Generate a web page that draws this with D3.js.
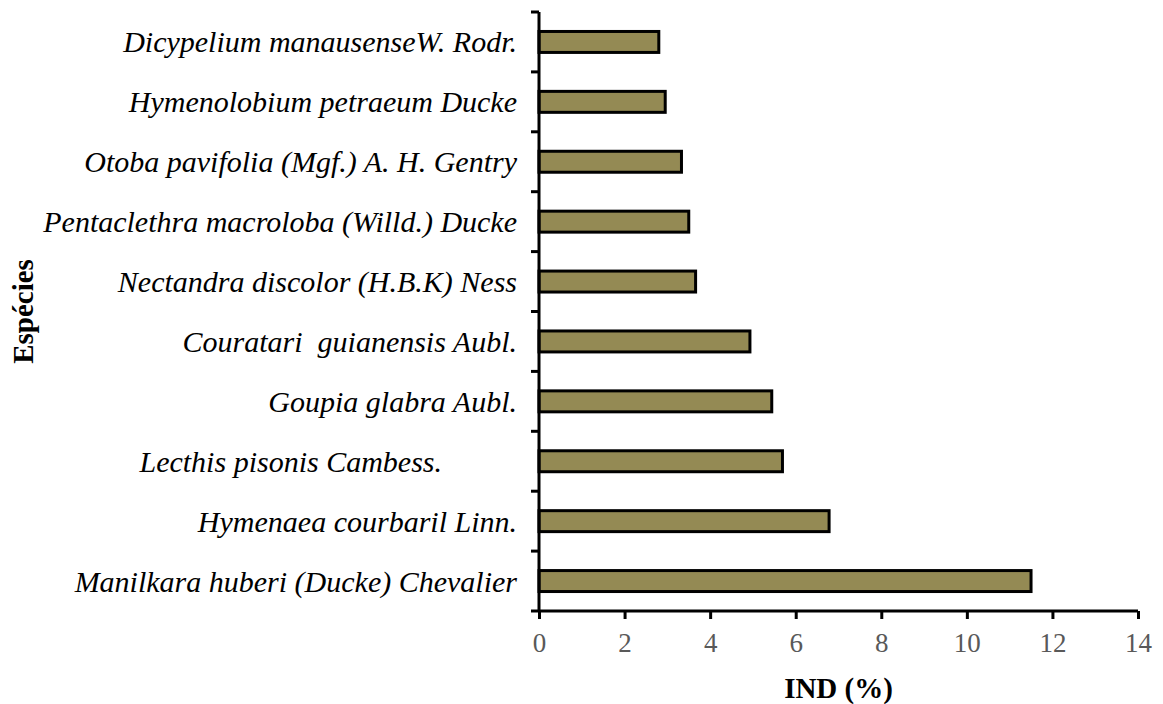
<!DOCTYPE html>
<html>
<head>
<meta charset="utf-8">
<script src="https://cdnjs.cloudflare.com/ajax/libs/d3/7.8.5/d3.min.js"></script>
<style>
  body { margin: 0; background: #fff; }
  svg text { font-family: "Liberation Serif", "Times New Roman", serif; }
</style>
</head>
<body>
<svg id="chart"></svg>
<script>
// species, top to bottom
let species = [
    "Dicypelium manausenseW. Rodr.",
    "Hymenolobium petraeum Ducke",
    "Otoba pavifolia (Mgf.) A. H. Gentry",
    "Pentaclethra macroloba (Willd.) Ducke",
    "Nectandra discolor (H.B.K) Ness",
    "Couratari  guianensis Aubl.",
    "Goupia glabra Aubl.",
    "Lecthis pisonis Cambess.          ",
    "Hymenaea courbaril Linn.",
    "Manilkara huberi (Ducke) Chevalier"
]
let indValues = [2.8, 2.95, 3.33, 3.5, 3.66, 4.93, 5.44, 5.69, 6.78, 11.5]
let xTicks = [0, 2, 4, 6, 8, 10, 12, 14]

let width = 1163
let height = 704
let margin = { top: 12, bottom: 93, left: 539, right: 25 }
let bodyWidth = width - margin.left - margin.right
let bodyHeight = height - margin.top - margin.bottom

let svg = d3.select('#chart')
    .attr('width', width)
    .attr('height', height)

let xScale = d3.scaleLinear()
    .domain([0, 14])
    .range([0, bodyWidth])

let yScale = d3.scaleBand()
    .domain(species)
    .range([0, bodyHeight])
    .paddingInner(0.65)
    .paddingOuter(0.325)

let body = svg.append('g')
    .attr('transform', `translate(${margin.left},${margin.top})`)

// bars
body.selectAll('rect.bar')
    .data(species)
    .join('rect')
    .attr('class', 'bar')
    .attr('x', 0)
    .attr('y', d => yScale(d))
    .attr('width', (d, i) => xScale(indValues[i]))
    .attr('height', yScale.bandwidth())
    .attr('fill', '#948a54')
    .attr('stroke', '#000')
    .attr('stroke-width', 3)

// x axis
let axisX = d3.axisBottom(xScale)
    .tickValues(xTicks)
    .tickSize(8)
    .tickPadding(14)
    .tickFormat(d3.format('d'))
let gx = body.append('g')
    .attr('transform', `translate(0,${bodyHeight})`)
    .call(axisX)
gx.select('.domain').attr('stroke-width', 3).attr('d', `M0,0H${bodyWidth}`)
gx.selectAll('.tick line').attr('stroke-width', 3)
gx.selectAll('.tick text')
    .attr('fill', '#595959')
    .style('font-size', '27px')

// y axis: ticks sit on band boundaries
let boundaries = d3.range(species.length + 1).map(i => i * bodyHeight / species.length)
let gy = body.append('g')
gy.append('line')
    .attr('x1', 0).attr('x2', 0)
    .attr('y1', 0).attr('y2', bodyHeight)
    .attr('stroke', '#000')
    .attr('stroke-width', 3)
gy.selectAll('line.tick')
    .data(boundaries)
    .join('line')
    .attr('class', 'tick')
    .attr('x1', -8).attr('x2', 0)
    .attr('y1', d => d).attr('y2', d => d)
    .attr('stroke', '#000')
    .attr('stroke-width', 3)

// species labels
body.selectAll('text.label')
    .data(species)
    .join('text')
    .attr('class', 'label')
    .attr('x', -22)
    .attr('y', d => yScale(d) + yScale.bandwidth() / 2)
    .attr('dy', '0.35em')
    .attr('text-anchor', 'end')
    .style('font-style', 'italic')
    .style('font-size', '30px')
    .style('white-space', 'pre')
    .text(d => d)

// axis titles
svg.append('text')
    .attr('x', margin.left + xScale(7))
    .attr('y', 698)
    .attr('text-anchor', 'middle')
    .style('font-weight', 'bold')
    .style('font-size', '29px')
    .text('IND (%)')

svg.append('text')
    .attr('transform', `translate(33,${margin.top + bodyHeight / 2}) rotate(-90)`)
    .attr('text-anchor', 'middle')
    .style('font-weight', 'bold')
    .style('font-size', '29px')
    .text('Espécies')
</script>
</body>
</html>
